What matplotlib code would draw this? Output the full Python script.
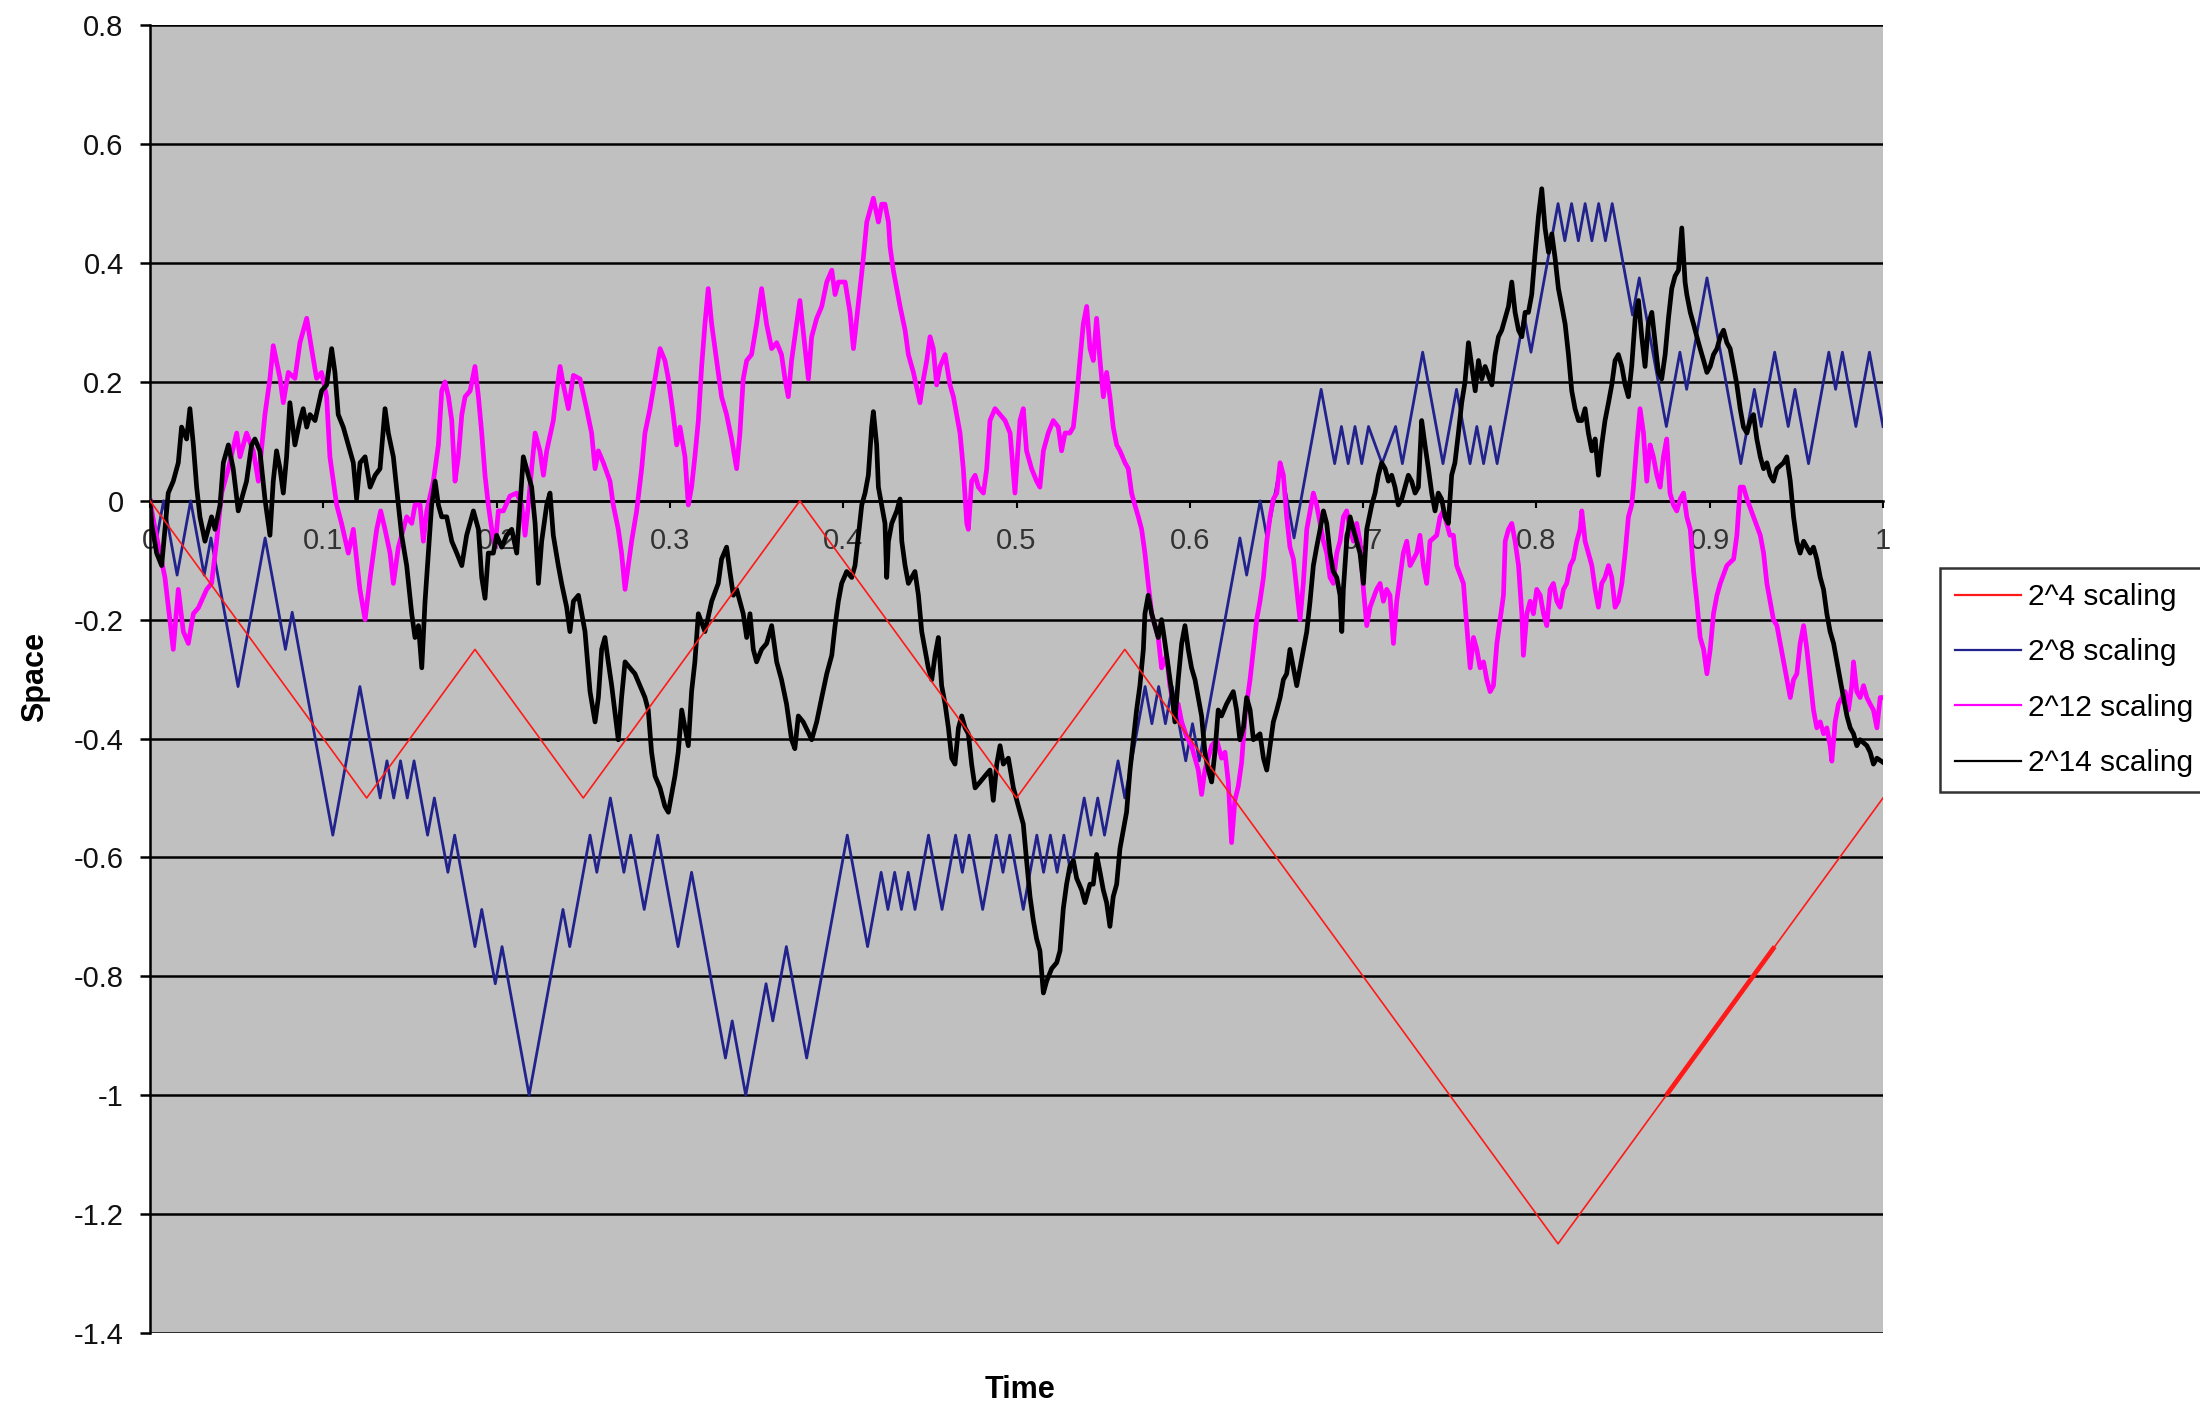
import numpy as np
import matplotlib.pyplot as plt
from matplotlib.lines import Line2D

plt.rcParams['font.family'] = ['Liberation Sans', 'DejaVu Sans']

# 2^4 walk: 16 steps of +-0.25
red_v = [0, -0.25, -0.5, -0.25, -0.5, -0.25, 0, -0.25, -0.5, -0.25,
         -0.5, -0.75, -1.0, -1.25, -1.0, -0.75, -0.5]

# 2^8 walk, turning points as (step, level): step = 1/256 of time, level = 1/16 of space
blue_turns = [
    (0, 0), (1, -1), (2, 0), (4, -2), (6, 0), (8, -2), (9, -1), (13, -5), (17, -1), (20, -4),
    (21, -3), (27, -9), (31, -5), (34, -8), (35, -7), (36, -8), (37, -7), (38, -8), (39, -7),
    (41, -9), (42, -8), (44, -10), (45, -9), (48, -12), (49, -11), (51, -13), (52, -12),
    (56, -16), (61, -11), (62, -12), (65, -9), (66, -10), (68, -8), (70, -10), (71, -9),
    (73, -11), (75, -9), (78, -12), (80, -10), (85, -15), (86, -14), (88, -16), (91, -13),
    (92, -14), (94, -12), (97, -15), (103, -9), (106, -12), (108, -10), (109, -11), (110, -10),
    (111, -11), (112, -10), (113, -11), (115, -9), (117, -11), (119, -9), (120, -10), (121, -9),
    (123, -11), (125, -9), (126, -10), (127, -9), (129, -11), (131, -9), (132, -10), (133, -9),
    (134, -10), (135, -9), (136, -10), (138, -8), (139, -9), (140, -8), (141, -9), (143, -7),
    (144, -8), (147, -5), (148, -6), (149, -5), (150, -6), (151, -5), (153, -7), (154, -6),
    (155, -7), (161, -1), (162, -2), (164, 0), (165, -1), (167, 1), (169, -1), (173, 3),
    (175, 1), (176, 2), (177, 1), (178, 2), (179, 1), (180, 2), (182, 1), (184, 2), (185, 1),
    (188, 4), (191, 1), (193, 3), (195, 1), (196, 2), (197, 1), (198, 2), (199, 1), (203, 5),
    (204, 4), (208, 8), (209, 7), (210, 8), (211, 7), (212, 8), (213, 7), (214, 8), (215, 7),
    (216, 8), (219, 5), (220, 6), (224, 2), (226, 4), (227, 3), (230, 6), (235, 1), (237, 3),
    (238, 2), (240, 4), (242, 2), (243, 3), (245, 1), (248, 4), (249, 3), (250, 4), (252, 2),
    (254, 4), (256, 2),
]

# 2^12 walk (time, space)
magenta_pts = [
    (0.0000, 0.000), (0.0029, -0.048), (0.0086, -0.129), (0.0134, -0.250), (0.0163, -0.149),
    (0.0192, -0.220), (0.0221, -0.240), (0.0250, -0.190), (0.0279, -0.180), (0.0327, -0.149),
    (0.0355, -0.139), (0.0384, -0.068), (0.0413, 0.013), (0.0452, 0.054), (0.0500, 0.114),
    (0.0519, 0.074), (0.0557, 0.114), (0.0596, 0.084), (0.0625, 0.033), (0.0663, 0.145),
    (0.0692, 0.206), (0.0711, 0.261), (0.0750, 0.206), (0.0769, 0.165), (0.0798, 0.216),
    (0.0836, 0.206), (0.0865, 0.266), (0.0904, 0.307), (0.0932, 0.256), (0.0961, 0.206),
    (0.0990, 0.216), (0.1019, 0.175), (0.1038, 0.074), (0.1077, -0.007), (0.1105, -0.038),
    (0.1144, -0.088), (0.1173, -0.048), (0.1211, -0.149), (0.1241, -0.200), (0.1270, -0.129),
    (0.1308, -0.048), (0.1331, -0.017), (0.1356, -0.048), (0.1385, -0.088), (0.1404, -0.139),
    (0.1433, -0.078), (0.1481, -0.027), (0.1510, -0.038), (0.1529, -0.007), (0.1558, -0.007),
    (0.1577, -0.068), (0.1597, -0.017), (0.1635, 0.033), (0.1664, 0.094), (0.1683, 0.185),
    (0.1702, 0.200), (0.1722, 0.175), (0.1741, 0.135), (0.1760, 0.033), (0.1779, 0.074),
    (0.1799, 0.145), (0.1818, 0.175), (0.1847, 0.185), (0.1875, 0.226), (0.1895, 0.175),
    (0.1914, 0.114), (0.1933, 0.043), (0.1952, -0.007), (0.1972, -0.048), (0.1991, -0.078),
    (0.2010, -0.017), (0.2039, -0.017), (0.2077, 0.008), (0.2116, 0.013), (0.2145, -0.007),
    (0.2164, -0.058), (0.2183, -0.007), (0.2202, 0.054), (0.2222, 0.114), (0.2250, 0.084),
    (0.2270, 0.043), (0.2289, 0.084), (0.2327, 0.135), (0.2347, 0.185), (0.2366, 0.226),
    (0.2385, 0.195), (0.2414, 0.155), (0.2443, 0.211), (0.2481, 0.205), (0.2519, 0.155),
    (0.2548, 0.114), (0.2568, 0.054), (0.2587, 0.084), (0.2616, 0.064), (0.2654, 0.033),
    (0.2673, -0.007), (0.2702, -0.048), (0.2721, -0.088), (0.2741, -0.149), (0.2760, -0.109),
    (0.2779, -0.068), (0.2808, -0.017), (0.2837, 0.054), (0.2856, 0.114), (0.2885, 0.155),
    (0.2914, 0.205), (0.2943, 0.256), (0.2971, 0.236), (0.2991, 0.205), (0.3019, 0.145),
    (0.3039, 0.094), (0.3058, 0.124), (0.3087, 0.074), (0.3106, -0.007), (0.3125, 0.023),
    (0.3144, 0.074), (0.3164, 0.135), (0.3183, 0.226), (0.3202, 0.297), (0.3221, 0.357),
    (0.3241, 0.297), (0.3260, 0.256), (0.3279, 0.216), (0.3298, 0.175), (0.3327, 0.145),
    (0.3356, 0.104), (0.3385, 0.054), (0.3404, 0.114), (0.3423, 0.205), (0.3443, 0.236),
    (0.3471, 0.246), (0.3500, 0.297), (0.3529, 0.357), (0.3558, 0.297), (0.3587, 0.256),
    (0.3616, 0.266), (0.3644, 0.246), (0.3664, 0.205), (0.3683, 0.175), (0.3702, 0.236),
    (0.3731, 0.297), (0.3750, 0.337), (0.3780, 0.256), (0.3799, 0.205), (0.3818, 0.276),
    (0.3847, 0.307), (0.3876, 0.327), (0.3905, 0.368), (0.3934, 0.388), (0.3953, 0.347),
    (0.3972, 0.368), (0.4011, 0.368), (0.4039, 0.317), (0.4059, 0.256), (0.4078, 0.307),
    (0.4097, 0.357), (0.4116, 0.408), (0.4136, 0.469), (0.4174, 0.509), (0.4203, 0.469),
    (0.4222, 0.499), (0.4241, 0.499), (0.4261, 0.469), (0.4270, 0.428), (0.4289, 0.388),
    (0.4309, 0.357), (0.4328, 0.327), (0.4357, 0.287), (0.4376, 0.246), (0.4405, 0.216),
    (0.4443, 0.165), (0.4463, 0.205), (0.4482, 0.236), (0.4501, 0.276), (0.4520, 0.256),
    (0.4539, 0.195), (0.4559, 0.226), (0.4588, 0.246), (0.4616, 0.195), (0.4636, 0.175),
    (0.4655, 0.145), (0.4674, 0.114), (0.4693, 0.054), (0.4713, -0.038), (0.4722, -0.048),
    (0.4741, 0.033), (0.4761, 0.043), (0.4780, 0.023), (0.4809, 0.013), (0.4828, 0.054),
    (0.4847, 0.135), (0.4876, 0.155), (0.4905, 0.145), (0.4934, 0.135), (0.4963, 0.114),
    (0.4991, 0.013), (0.5020, 0.135), (0.5039, 0.155), (0.5058, 0.084), (0.5087, 0.054),
    (0.5116, 0.033), (0.5135, 0.023), (0.5155, 0.084), (0.5183, 0.114), (0.5212, 0.135),
    (0.5241, 0.124), (0.5260, 0.084), (0.5280, 0.114), (0.5308, 0.114), (0.5328, 0.124),
    (0.5347, 0.175), (0.5366, 0.236), (0.5385, 0.297), (0.5405, 0.327), (0.5424, 0.256),
    (0.5443, 0.236), (0.5462, 0.307), (0.5482, 0.236), (0.5501, 0.175), (0.5520, 0.216),
    (0.5539, 0.175), (0.5558, 0.124), (0.5578, 0.094), (0.5597, 0.084), (0.5626, 0.064),
    (0.5645, 0.054), (0.5664, 0.013), (0.5683, -0.007), (0.5703, -0.027), (0.5722, -0.048),
    (0.5741, -0.088), (0.5760, -0.139), (0.5780, -0.190), (0.5799, -0.210), (0.5818, -0.230),
    (0.5837, -0.281), (0.5866, -0.260), (0.5885, -0.311), (0.5905, -0.342), (0.5933, -0.342),
    (0.5953, -0.372), (0.5982, -0.397), (0.6010, -0.412), (0.6030, -0.433), (0.6049, -0.453),
    (0.6068, -0.494), (0.6087, -0.453), (0.6126, -0.412), (0.6155, -0.402), (0.6183, -0.433),
    (0.6203, -0.423), (0.6222, -0.473), (0.6241, -0.575), (0.6260, -0.504), (0.6280, -0.480),
    (0.6299, -0.440), (0.6320, -0.358), (0.6348, -0.300), (0.6367, -0.250), (0.6386, -0.200),
    (0.6405, -0.169), (0.6425, -0.129), (0.6444, -0.068), (0.6463, -0.027), (0.6482, 0.003),
    (0.6502, 0.013), (0.6521, 0.064), (0.6540, 0.043), (0.6559, -0.027), (0.6578, -0.078),
    (0.6598, -0.098), (0.6617, -0.149), (0.6636, -0.200), (0.6655, -0.139), (0.6675, -0.048),
    (0.6694, -0.017), (0.6713, 0.013), (0.6732, -0.007), (0.6752, -0.038), (0.6771, -0.068),
    (0.6790, -0.088), (0.6809, -0.129), (0.6828, -0.139), (0.6848, -0.088), (0.6867, -0.068),
    (0.6886, -0.027), (0.6905, -0.017), (0.6925, -0.048), (0.6944, -0.068), (0.6963, -0.038),
    (0.6982, -0.068), (0.7002, -0.149), (0.7021, -0.210), (0.7040, -0.179), (0.7078, -0.149),
    (0.7098, -0.139), (0.7117, -0.169), (0.7136, -0.149), (0.7155, -0.159), (0.7175, -0.240),
    (0.7194, -0.169), (0.7213, -0.129), (0.7232, -0.088), (0.7252, -0.068), (0.7271, -0.109),
    (0.7309, -0.088), (0.7328, -0.058), (0.7348, -0.109), (0.7367, -0.139), (0.7386, -0.068),
    (0.7425, -0.058), (0.7444, -0.027), (0.7463, -0.017), (0.7501, -0.058), (0.7521, -0.058),
    (0.7540, -0.109), (0.7579, -0.139), (0.7598, -0.210), (0.7618, -0.281), (0.7637, -0.230),
    (0.7656, -0.250), (0.7675, -0.281), (0.7695, -0.271), (0.7714, -0.301), (0.7733, -0.321),
    (0.7752, -0.311), (0.7772, -0.240), (0.7791, -0.200), (0.7810, -0.159), (0.7820, -0.068),
    (0.7839, -0.048), (0.7858, -0.038), (0.7877, -0.068), (0.7897, -0.109), (0.7916, -0.190),
    (0.7925, -0.260), (0.7945, -0.190), (0.7964, -0.169), (0.7983, -0.190), (0.8002, -0.149),
    (0.8022, -0.159), (0.8041, -0.190), (0.8060, -0.210), (0.8079, -0.149), (0.8098, -0.139),
    (0.8118, -0.169), (0.8137, -0.179), (0.8156, -0.149), (0.8175, -0.139), (0.8195, -0.109),
    (0.8214, -0.098), (0.8233, -0.068), (0.8252, -0.048), (0.8262, -0.017), (0.8281, -0.068),
    (0.8300, -0.088), (0.8320, -0.109), (0.8339, -0.149), (0.8358, -0.179), (0.8377, -0.139),
    (0.8396, -0.129), (0.8416, -0.109), (0.8435, -0.129), (0.8454, -0.179), (0.8473, -0.169),
    (0.8493, -0.139), (0.8512, -0.088), (0.8531, -0.027), (0.8550, -0.007), (0.8560, 0.023),
    (0.8579, 0.094), (0.8598, 0.155), (0.8618, 0.114), (0.8637, 0.033), (0.8656, 0.094),
    (0.8675, 0.074), (0.8695, 0.043), (0.8714, 0.023), (0.8733, 0.074), (0.8752, 0.104),
    (0.8771, 0.013), (0.8791, -0.007), (0.8810, -0.017), (0.8830, 0.003), (0.8849, 0.013),
    (0.8868, -0.027), (0.8888, -0.048), (0.8907, -0.119), (0.8926, -0.169), (0.8945, -0.230),
    (0.8965, -0.250), (0.8984, -0.291), (0.9003, -0.250), (0.9022, -0.190), (0.9042, -0.159),
    (0.9061, -0.139), (0.9099, -0.109), (0.9138, -0.098), (0.9157, -0.058), (0.9176, 0.023),
    (0.9195, 0.023), (0.9215, 0.003), (0.9253, -0.027), (0.9292, -0.058), (0.9311, -0.088),
    (0.9330, -0.139), (0.9349, -0.169), (0.9368, -0.200), (0.9388, -0.210), (0.9407, -0.240),
    (0.9426, -0.271), (0.9445, -0.301), (0.9465, -0.331), (0.9484, -0.301), (0.9503, -0.291),
    (0.9522, -0.240), (0.9542, -0.210), (0.9561, -0.250), (0.9580, -0.301), (0.9599, -0.352),
    (0.9618, -0.382), (0.9638, -0.372), (0.9657, -0.392), (0.9676, -0.382), (0.9695, -0.412),
    (0.9705, -0.438), (0.9724, -0.372), (0.9743, -0.342), (0.9763, -0.331), (0.9782, -0.321),
    (0.9801, -0.352), (0.9820, -0.311), (0.9830, -0.271), (0.9849, -0.321), (0.9868, -0.331),
    (0.9888, -0.311), (0.9907, -0.331), (0.9926, -0.342), (0.9945, -0.352), (0.9965, -0.382),
    (0.9984, -0.331), (1.0000, -0.331),
]

# 2^14 walk (time, space)
black_pts = [
    (0.0000, 0.000), (0.0009, -0.038), (0.0038, -0.088), (0.0067, -0.109), (0.0086, -0.048),
    (0.0105, 0.013), (0.0134, 0.033), (0.0163, 0.064), (0.0182, 0.124), (0.0211, 0.104),
    (0.0230, 0.155), (0.0250, 0.094), (0.0269, 0.023), (0.0288, -0.027), (0.0317, -0.068),
    (0.0355, -0.027), (0.0375, -0.048), (0.0404, -0.007), (0.0423, 0.064), (0.0452, 0.094),
    (0.0480, 0.054), (0.0509, -0.017), (0.0557, 0.033), (0.0586, 0.094), (0.0605, 0.104),
    (0.0634, 0.084), (0.0663, 0.003), (0.0692, -0.058), (0.0711, 0.033), (0.0730, 0.084),
    (0.0750, 0.054), (0.0769, 0.013), (0.0788, 0.074), (0.0807, 0.165), (0.0836, 0.094),
    (0.0865, 0.135), (0.0884, 0.155), (0.0904, 0.124), (0.0923, 0.145), (0.0952, 0.135),
    (0.0990, 0.185), (0.1019, 0.195), (0.1048, 0.256), (0.1067, 0.216), (0.1086, 0.145),
    (0.1115, 0.124), (0.1144, 0.094), (0.1173, 0.064), (0.1192, 0.003), (0.1212, 0.064),
    (0.1241, 0.074), (0.1270, 0.023), (0.1299, 0.043), (0.1327, 0.054), (0.1356, 0.155),
    (0.1375, 0.114), (0.1404, 0.074), (0.1433, -0.007), (0.1452, -0.058), (0.1481, -0.109),
    (0.1510, -0.190), (0.1529, -0.230), (0.1549, -0.210), (0.1568, -0.281), (0.1587, -0.169),
    (0.1606, -0.088), (0.1625, -0.007), (0.1645, 0.033), (0.1664, -0.007), (0.1683, -0.027),
    (0.1712, -0.027), (0.1741, -0.068), (0.1770, -0.088), (0.1799, -0.109), (0.1827, -0.058),
    (0.1866, -0.017), (0.1895, -0.048), (0.1914, -0.129), (0.1933, -0.164), (0.1952, -0.088),
    (0.1981, -0.088), (0.2000, -0.058), (0.2029, -0.078), (0.2058, -0.058), (0.2087, -0.048),
    (0.2116, -0.088), (0.2135, -0.007), (0.2154, 0.074), (0.2183, 0.043), (0.2202, 0.023),
    (0.2222, -0.038), (0.2241, -0.139), (0.2260, -0.068), (0.2289, -0.007), (0.2308, 0.013),
    (0.2327, -0.058), (0.2356, -0.109), (0.2375, -0.139), (0.2404, -0.179), (0.2423, -0.220),
    (0.2443, -0.169), (0.2472, -0.159), (0.2510, -0.220), (0.2539, -0.321), (0.2568, -0.372),
    (0.2587, -0.331), (0.2606, -0.250), (0.2625, -0.230), (0.2644, -0.271), (0.2664, -0.311),
    (0.2702, -0.402), (0.2721, -0.331), (0.2741, -0.271), (0.2769, -0.281), (0.2798, -0.291),
    (0.2827, -0.311), (0.2856, -0.331), (0.2875, -0.352), (0.2894, -0.423), (0.2914, -0.463),
    (0.2943, -0.483), (0.2971, -0.514), (0.2991, -0.524), (0.3010, -0.494), (0.3029, -0.463),
    (0.3048, -0.423), (0.3068, -0.352), (0.3087, -0.382), (0.3106, -0.412), (0.3125, -0.321),
    (0.3144, -0.271), (0.3164, -0.190), (0.3202, -0.220), (0.3241, -0.169), (0.3279, -0.139),
    (0.3298, -0.098), (0.3327, -0.078), (0.3346, -0.119), (0.3366, -0.159), (0.3385, -0.149),
    (0.3423, -0.190), (0.3443, -0.230), (0.3462, -0.190), (0.3481, -0.250), (0.3500, -0.271),
    (0.3529, -0.250), (0.3558, -0.240), (0.3587, -0.210), (0.3616, -0.271), (0.3644, -0.301),
    (0.3673, -0.342), (0.3702, -0.402), (0.3721, -0.417), (0.3741, -0.362), (0.3769, -0.372),
    (0.3799, -0.390), (0.3818, -0.402), (0.3847, -0.372), (0.3876, -0.331), (0.3905, -0.291),
    (0.3934, -0.260), (0.3953, -0.210), (0.3972, -0.169), (0.3991, -0.139), (0.4020, -0.119),
    (0.4049, -0.129), (0.4068, -0.109), (0.4088, -0.058), (0.4107, -0.007), (0.4126, 0.013),
    (0.4145, 0.043), (0.4164, 0.124), (0.4174, 0.150), (0.4193, 0.094), (0.4203, 0.023),
    (0.4222, -0.007), (0.4241, -0.038), (0.4251, -0.129), (0.4261, -0.068), (0.4280, -0.038),
    (0.4309, -0.017), (0.4328, 0.003), (0.4338, -0.068), (0.4357, -0.109), (0.4376, -0.139),
    (0.4414, -0.119), (0.4434, -0.159), (0.4453, -0.220), (0.4472, -0.250), (0.4491, -0.281),
    (0.4511, -0.301), (0.4530, -0.260), (0.4549, -0.230), (0.4568, -0.311), (0.4588, -0.342),
    (0.4607, -0.382), (0.4626, -0.433), (0.4645, -0.443), (0.4665, -0.382), (0.4684, -0.362),
    (0.4703, -0.382), (0.4722, -0.392), (0.4741, -0.443), (0.4761, -0.483), (0.4790, -0.473),
    (0.4818, -0.463), (0.4847, -0.453), (0.4866, -0.504), (0.4886, -0.443), (0.4905, -0.412),
    (0.4924, -0.443), (0.4953, -0.433), (0.4982, -0.483), (0.5011, -0.514), (0.5039, -0.544),
    (0.5058, -0.605), (0.5078, -0.666), (0.5097, -0.706), (0.5116, -0.737), (0.5135, -0.757),
    (0.5155, -0.828), (0.5174, -0.808), (0.5203, -0.787), (0.5232, -0.777), (0.5251, -0.757),
    (0.5270, -0.686), (0.5289, -0.645), (0.5308, -0.615), (0.5328, -0.605), (0.5347, -0.635),
    (0.5376, -0.655), (0.5395, -0.676), (0.5424, -0.645), (0.5443, -0.645), (0.5462, -0.595),
    (0.5482, -0.625), (0.5501, -0.655), (0.5520, -0.676), (0.5539, -0.716), (0.5558, -0.666),
    (0.5578, -0.645), (0.5597, -0.585), (0.5616, -0.554), (0.5635, -0.524), (0.5655, -0.453),
    (0.5674, -0.402), (0.5693, -0.352), (0.5712, -0.311), (0.5732, -0.250), (0.5741, -0.190),
    (0.5760, -0.159), (0.5780, -0.190), (0.5799, -0.210), (0.5818, -0.230), (0.5837, -0.200),
    (0.5857, -0.240), (0.5876, -0.281), (0.5895, -0.321), (0.5914, -0.372), (0.5933, -0.301),
    (0.5953, -0.240), (0.5972, -0.210), (0.5991, -0.250), (0.6010, -0.281), (0.6030, -0.301),
    (0.6049, -0.331), (0.6068, -0.362), (0.6087, -0.423), (0.6107, -0.453), (0.6126, -0.473),
    (0.6145, -0.423), (0.6164, -0.352), (0.6183, -0.362), (0.6212, -0.342), (0.6251, -0.321),
    (0.6270, -0.352), (0.6289, -0.402), (0.6309, -0.382), (0.6328, -0.331), (0.6348, -0.352),
    (0.6367, -0.402), (0.6405, -0.392), (0.6425, -0.433), (0.6444, -0.453), (0.6463, -0.412),
    (0.6482, -0.372), (0.6502, -0.352), (0.6521, -0.331), (0.6540, -0.301), (0.6559, -0.291),
    (0.6578, -0.250), (0.6598, -0.281), (0.6617, -0.311), (0.6636, -0.281), (0.6655, -0.250),
    (0.6675, -0.220), (0.6694, -0.169), (0.6713, -0.109), (0.6732, -0.078), (0.6752, -0.048),
    (0.6771, -0.017), (0.6790, -0.038), (0.6809, -0.088), (0.6828, -0.119), (0.6848, -0.129),
    (0.6867, -0.159), (0.6877, -0.220), (0.6886, -0.149), (0.6905, -0.068), (0.6925, -0.027),
    (0.6944, -0.048), (0.6963, -0.068), (0.6982, -0.088), (0.7002, -0.139), (0.7021, -0.048),
    (0.7050, -0.007), (0.7069, 0.013), (0.7088, 0.043), (0.7107, 0.064), (0.7127, 0.054),
    (0.7146, 0.033), (0.7165, 0.043), (0.7184, 0.023), (0.7203, -0.007), (0.7223, 0.003),
    (0.7261, 0.043), (0.7280, 0.033), (0.7300, 0.013), (0.7319, 0.023), (0.7338, 0.135),
    (0.7357, 0.094), (0.7377, 0.054), (0.7396, 0.013), (0.7415, -0.017), (0.7434, 0.013),
    (0.7453, 0.003), (0.7473, -0.027), (0.7492, -0.038), (0.7511, 0.043), (0.7530, 0.064),
    (0.7550, 0.114), (0.7569, 0.165), (0.7588, 0.200), (0.7608, 0.266), (0.7627, 0.226),
    (0.7647, 0.185), (0.7666, 0.236), (0.7685, 0.205), (0.7704, 0.226), (0.7743, 0.195),
    (0.7762, 0.246), (0.7781, 0.276), (0.7800, 0.287), (0.7839, 0.327), (0.7858, 0.368),
    (0.7877, 0.317), (0.7897, 0.287), (0.7916, 0.276), (0.7935, 0.317), (0.7954, 0.317),
    (0.7973, 0.347), (0.7993, 0.418), (0.8012, 0.479), (0.8031, 0.525), (0.8050, 0.459),
    (0.8070, 0.418), (0.8089, 0.449), (0.8108, 0.408), (0.8127, 0.357), (0.8147, 0.327),
    (0.8166, 0.297), (0.8185, 0.246), (0.8204, 0.185), (0.8223, 0.155), (0.8243, 0.135),
    (0.8262, 0.135), (0.8281, 0.155), (0.8300, 0.114), (0.8320, 0.084), (0.8339, 0.104),
    (0.8358, 0.043), (0.8377, 0.094), (0.8396, 0.135), (0.8416, 0.165), (0.8435, 0.195),
    (0.8454, 0.236), (0.8473, 0.246), (0.8493, 0.226), (0.8512, 0.195), (0.8531, 0.175),
    (0.8550, 0.226), (0.8570, 0.307), (0.8589, 0.337), (0.8608, 0.276), (0.8627, 0.226),
    (0.8646, 0.297), (0.8666, 0.317), (0.8685, 0.266), (0.8704, 0.216), (0.8723, 0.205),
    (0.8743, 0.246), (0.8762, 0.307), (0.8781, 0.357), (0.8800, 0.378), (0.8820, 0.388),
    (0.8839, 0.459), (0.8858, 0.368), (0.8868, 0.347), (0.8888, 0.317), (0.8907, 0.297),
    (0.8926, 0.276), (0.8945, 0.256), (0.8965, 0.236), (0.8984, 0.216), (0.9003, 0.226),
    (0.9022, 0.246), (0.9042, 0.256), (0.9061, 0.276), (0.9080, 0.287), (0.9099, 0.266),
    (0.9118, 0.256), (0.9138, 0.226), (0.9157, 0.195), (0.9176, 0.155), (0.9195, 0.124),
    (0.9215, 0.114), (0.9234, 0.135), (0.9253, 0.145), (0.9272, 0.104), (0.9292, 0.074),
    (0.9311, 0.054), (0.9330, 0.064), (0.9349, 0.043), (0.9368, 0.033), (0.9388, 0.054),
    (0.9426, 0.064), (0.9445, 0.074), (0.9465, 0.033), (0.9484, -0.027), (0.9503, -0.068),
    (0.9522, -0.088), (0.9542, -0.068), (0.9580, -0.088), (0.9599, -0.078), (0.9618, -0.098),
    (0.9638, -0.129), (0.9657, -0.149), (0.9676, -0.190), (0.9695, -0.220), (0.9715, -0.240),
    (0.9734, -0.271), (0.9753, -0.301), (0.9772, -0.331), (0.9792, -0.362), (0.9811, -0.382),
    (0.9830, -0.392), (0.9849, -0.412), (0.9868, -0.402), (0.9907, -0.412), (0.9926, -0.423),
    (0.9945, -0.443), (0.9965, -0.433), (1.0000, -0.440),
]

series_names = ['2^4 scaling', '2^8 scaling', '2^12 scaling', '2^14 scaling']
series_colors = ['#ff1a1a', '#22228c', '#ff00ff', '#000000']

x_ticks = [0, 0.1, 0.2, 0.3, 0.4, 0.5, 0.6, 0.7, 0.8, 0.9, 1.0]
x_tick_labels = ['0', '0.1', '0.2', '0.3', '0.4', '0.5', '0.6', '0.7', '0.8', '0.9', '1']
y_ticks = [0.8, 0.6, 0.4, 0.2, 0, -0.2, -0.4, -0.6, -0.8, -1.0, -1.2, -1.4]
y_tick_labels = ['0.8', '0.6', '0.4', '0.2', '0', '-0.2', '-0.4', '-0.6', '-0.8', '-1', '-1.2', '-1.4']

# convert the raw lists
red_t = np.arange(len(red_v)) / (len(red_v) - 1)
blue_t = np.array([s for s, _ in blue_turns]) / 256
blue_v = np.array([l for _, l in blue_turns]) / 16
mag_t, mag_v = np.array(magenta_pts).T
blk_t, blk_v = np.array(black_pts).T

fig = plt.figure(figsize=(22, 14.04), dpi=100)
ax = fig.add_axes([0.0682, 0.0506, 0.7877, 0.9314])
ax.set_facecolor('#c0c0c0')

ax.plot(blue_t, blue_v, color=series_colors[1], lw=2.0, zorder=3)
ax.plot(mag_t, mag_v, color=series_colors[2], lw=3.4, zorder=4)
ax.plot(blk_t, blk_v, color=series_colors[3], lw=3.4, zorder=5)
ax.plot(red_t, red_v, color=series_colors[0], lw=1.2, zorder=6)
# the heavier stretch on the 2^4 line
ax.plot(red_t[14:16], red_v[14:16], color=series_colors[0], lw=3.4,
        solid_capstyle='butt', zorder=6)

ax.set_xlim(0, 1)
ax.set_ylim(-1.4, 0.8)

# y gridlines
ax.set_yticks(y_ticks)
ax.set_yticklabels(y_tick_labels)
ax.yaxis.grid(True, color='black', lw=1.8)
ax.set_axisbelow(True)

# x axis sits on y = 0
ax.spines['bottom'].set_position(('data', 0))
ax.spines['bottom'].set_linewidth(1.8)
ax.spines['left'].set_linewidth(1.8)
ax.spines['top'].set_visible(False)
ax.spines['right'].set_visible(False)
ax.set_xticks(x_ticks)
ax.set_xticklabels(x_tick_labels)

ax.tick_params(axis='y', direction='out', length=7, width=1.8, pad=12,
               labelsize=21, labelcolor='#111111')
ax.tick_params(axis='x', direction='out', length=5, width=1.5, pad=14,
               labelsize=21, labelcolor='#333333')

fig.text(0.016, 0.518, 'Space', rotation=90, ha='center', va='center',
         fontsize=22, fontweight='bold')
fig.text(0.4636, 0.010, 'Time', ha='center', va='center',
         fontsize=22, fontweight='bold')

handles = [Line2D([], [], color=c, lw=1.6) for c in series_colors]
leg = fig.legend(handles, series_names, loc='upper left',
                 bbox_to_anchor=(0.8818, 0.5954), borderaxespad=0,
                 fontsize=21.5, frameon=True, fancybox=False,
                 handlelength=2.2, handletextpad=0.25, labelspacing=0.92,
                 borderpad=0.5)
leg.get_frame().set_edgecolor('black')
leg.get_frame().set_linewidth(1.8)

fig.savefig('out.png', dpi=100, facecolor='white')
